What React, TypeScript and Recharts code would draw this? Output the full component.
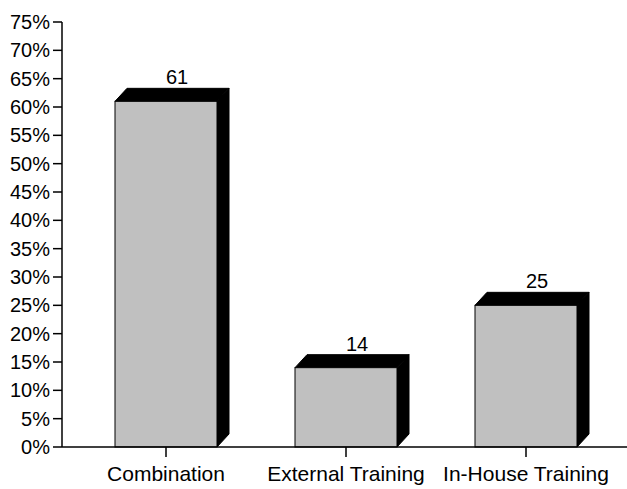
import * as React from 'react';
import { BarChart, Bar, XAxis, YAxis, LabelList } from 'recharts';

const CATEGORIES = ['Combination', 'External Training', 'In-House Training'];
const VALUES = [61, 14, 25];
const Y_TICKS = [0, 5, 10, 15, 20, 25, 30, 35, 40, 45, 50, 55, 60, 65, 70, 75];

const FONT = '"Liberation Sans", Arial, Helvetica, sans-serif';
const DX = 12;
const DY = 13;

const data = CATEGORIES.map((name, i) => ({ name, value: VALUES[i] }));

// front face grey, black top + right side like the old 3d clip art charts
function Box3D(props: any) {
  const { x, y, width, height } = props;
  if (width == null || height == null) return null;
  const r = x + width;
  const b = y + height;
  return (
    <g>
      <polygon
        points={`${x},${y} ${x + DX},${y - DY} ${r + DX},${y - DY} ${r},${y}`}
        fill="#000"
        stroke="#000"
      />
      <polygon
        points={`${r},${y} ${r + DX},${y - DY} ${r + DX},${b - DY} ${r},${b}`}
        fill="#000"
        stroke="#000"
      />
      <rect x={x} y={y} width={width} height={height} fill="#c0c0c0" stroke="#000" strokeWidth={1} />
    </g>
  );
}

function ValueLabel(props: any) {
  const { x, y, width, value } = props;
  return (
    <text
      x={x + width / 2 + 11}
      y={y - 17}
      textAnchor="middle"
      fontFamily={FONT}
      fontSize={20}
      fill="#000"
    >
      {value}
    </text>
  );
}

export default function App() {
  return (
    <div style={{ position: 'absolute', left: 0, top: 0, background: '#fff' }}>
      <BarChart
        width={627}
        height={489}
        data={data}
        margin={{ top: 22, right: 0, bottom: 0, left: 0 }}
      >
        <XAxis
          dataKey="name"
          height={42}
          padding={{ left: 14, right: 11 }}
          axisLine={{ stroke: '#000', strokeWidth: 1.5 }}
          tickLine={{ stroke: '#000', strokeWidth: 1.5 }}
          tickSize={10}
          tickMargin={9}
          interval={0}
          tick={{ fill: '#000', fontSize: 21, fontFamily: FONT }}
        />
        <YAxis
          width={62}
          domain={[0, 75]}
          ticks={Y_TICKS}
          interval={0}
          tickFormatter={(v: number) => `${v}%`}
          axisLine={{ stroke: '#000', strokeWidth: 1.5 }}
          tickLine={{ stroke: '#000', strokeWidth: 1.5 }}
          tickSize={9}
          tickMargin={3}
          tick={{ fill: '#000', fontSize: 20, fontFamily: FONT }}
        />
        <Bar dataKey="value" barSize={102} shape={<Box3D />} isAnimationActive={false}>
          <LabelList dataKey="value" content={<ValueLabel />} />
        </Bar>
      </BarChart>
    </div>
  );
}
